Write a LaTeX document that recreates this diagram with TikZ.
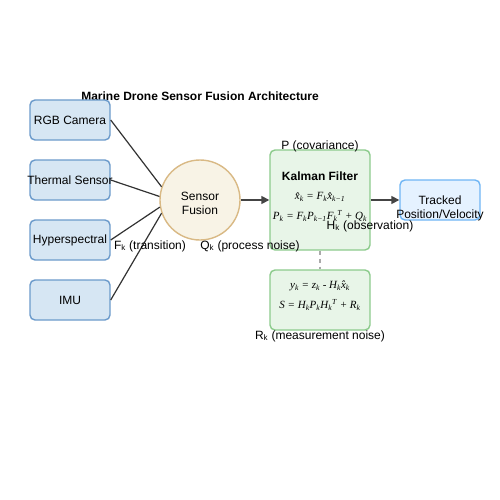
\documentclass[tikz,border=0pt]{standalone}
\usepackage{fontspec}
\setmainfont{Liberation Sans}
\newfontfamily\tnr{Liberation Serif}
\usetikzlibrary{arrows.meta}
\definecolor{sbfill}{HTML}{D6E6F3}
\definecolor{sbdraw}{HTML}{6C9BCB}
\definecolor{fufill}{HTML}{F8F3E6}
\definecolor{fudraw}{HTML}{D9B985}
\definecolor{kffill}{HTML}{E8F5E8}
\definecolor{kfdraw}{HTML}{8CCB8C}
\definecolor{trfill}{HTML}{E5F2FF}
\definecolor{trdraw}{HTML}{70B6F5}
\definecolor{lnc}{HTML}{333333}
\definecolor{arc}{HTML}{444444}
\definecolor{dsc}{HTML}{AAAAAA}
\newcommand{\hx}{\^{x}}
\newcommand{\sk}{\textsubscript{k}}
\begin{document}
\begin{tikzpicture}[x=1pt,y=-1pt,
  lbl/.style={font=\fontsize{12}{14}\selectfont, inner sep=0pt},
  ttl/.style={font=\fontsize{12}{14}\selectfont\bfseries, inner sep=0pt},
  frm/.style={font=\fontsize{11}{13}\selectfont\tnr\itshape, inner sep=0pt},
  sensor/.style={draw=sbdraw, fill=sbfill, line width=1.4pt, rounded corners=5pt,
    minimum width=80pt, minimum height=40pt, inner sep=0pt, font=\fontsize{12}{14}\selectfont},
  kbox/.style={draw=kfdraw, fill=kffill, line width=1.4pt, rounded corners=5pt,
    minimum width=100pt, inner sep=0pt},
  conn/.style={draw=lnc, line width=1.2pt},
  flow/.style={draw=arc, line width=1.6pt, -{Triangle[length=8pt,width=8pt]}}
]
\useasboundingbox (0,0) rectangle (500,500);
\fill[white] (0,0) rectangle (500,500);

\node[ttl] (title) at (200,96) {Marine Drone Sensor Fusion Architecture};

\node[sensor] (rgb) at (70,120) {RGB Camera};
\node[sensor] (thermal) at (70,180) {};
\node[lbl] (thermaltxt) at (70,180) {Thermal Sensor};
\node[sensor] (hyper) at (70,240) {Hyperspectral};
\node[sensor] (imu) at (70,300) {IMU};

\node[circle, draw=fudraw, fill=fufill, line width=1.4pt, minimum size=80pt, inner sep=0pt] (fusion) at (200,200) {};
\node[lbl, align=center] (fusiontxt) at (200,203.5) {Sensor\\Fusion};

\draw[conn] (rgb.east) -- (fusion.161);
\draw[conn] (thermal.east) -- (fusion.175);
\draw[conn] (hyper.east) -- (fusion.190);
\draw[conn] (imu.east) -- (fusion.199);

\node[kbox, minimum height=100pt] (kalman) at (320,200) {};
\node[ttl] (kftitle) at (320,176) {Kalman Filter};
\node[frm] (kf1) at (320,197) {\hx\sk{} = F\sk\hx\textsubscript{k−1}};
\node[frm] (kf2) at (320,216) {P\sk{} = F\sk P\textsubscript{k−1}F\sk\textsuperscript{T} + Q\sk};
\node[lbl] (pcov) at (320,146) {P (covariance)};

\node[draw=trdraw, fill=trfill, line width=1.4pt, rounded corners=5pt,
  minimum width=80pt, minimum height=40pt, inner sep=0pt] (tracked) at (440,200) {};
\node[lbl, align=center] (trackedtxt) at (440,208) {Tracked\\Position/Velocity};

\draw[flow] (fusion.east) -- (kalman.west);
\draw[flow] (kalman.east) -- (tracked.west);

\node[kbox, minimum height=60pt] (meas) at (320,300) {};
\node[frm] (m1) at (320,286) {y\sk{} = z\sk{} - H\sk\hx\sk};
\node[frm] (m2) at (320,305) {S = H\sk P\sk H\sk\textsuperscript{T} + R\sk};
\draw[draw=dsc, line width=2pt, dash pattern=on 4pt off 4pt] (kalman.south) -- (meas.north);

\node[lbl] (hobs) at (370,226) {H\sk{} (observation)};
\node[lbl] (ftr) at (150,246) {F\sk{} (transition)};
\node[lbl] (qpn) at (250,246) {Q\sk{} (process noise)};
\node[lbl] (rmn) at (320,336) {R\sk{} (measurement noise)};
\end{tikzpicture}
\end{document}
